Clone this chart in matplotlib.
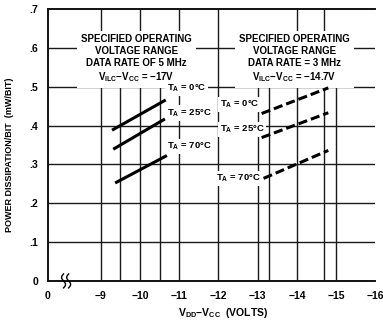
import numpy as np
import matplotlib
matplotlib.use("Agg")
import matplotlib.pyplot as plt

plt.rcParams['font.family'] = ['Liberation Sans', 'DejaVu Sans']
plt.rcParams['mathtext.fontset'] = 'custom'
plt.rcParams['mathtext.rm'] = 'Liberation Sans:bold'
plt.rcParams['mathtext.default'] = 'rm'

# data (volts, mW/bit)
v_5mhz_0 = [-9.32, -10.62]
p_5mhz_0 = [0.390, 0.464]
v_5mhz_25 = [-9.35, -10.60]
p_5mhz_25 = [0.341, 0.415]
v_5mhz_70 = [-9.40, -10.65]
p_5mhz_70 = [0.254, 0.321]

v_3mhz_0 = [-13.10, -14.80]
p_3mhz_0 = [0.431, 0.497]
v_3mhz_25 = [-13.10, -14.80]
p_3mhz_25 = [0.369, 0.433]
v_3mhz_70 = [-13.15, -14.80]
p_3mhz_70 = [0.264, 0.336]

x_ticks = [-7.65, -9, -10, -11, -12, -13, -14, -15, -16]
x_tick_labels = ['0', '\u22129', '\u221210', '\u221211', '\u221212', '\u221213', '\u221214', '\u221215', '\u221216']
y_ticks = [0, 0.1, 0.2, 0.3, 0.4, 0.5, 0.6, 0.7]
y_tick_labels = ['0', '.1', '.2', '.3', '.4', '.5', '.6', '.7']
v_grid_full = [-9, -10, -11, -12, -14, -14.7]
v_grid_low = [-9.5, -10.5, -13, -13.3, -15]

fig = plt.figure(figsize=(3.83, 3.24), dpi=100)
ax = fig.add_axes([0.125, 0.133, 0.855, 0.839])
ax.set_xlim(-7.65, -16)
ax.set_ylim(0, 0.7)

# grid
for v in v_grid_full:
    ax.axvline(v, color='#1a1a1a', lw=1.0, zorder=1)
for v in v_grid_low:
    ax.axvline(v, ymax=0.5 / 0.7, color='#1a1a1a', lw=1.0, zorder=1)
for p in y_ticks[1:-1]:
    ax.axhline(p, color='#1a1a1a', lw=1.0, zorder=1)

ax.spines['right'].set_visible(False)
for s in ['left', 'bottom', 'top']:
    ax.spines[s].set_linewidth(1.4)
    ax.spines[s].set_color('#111111')

ax.set_xticks(x_ticks)
ax.set_xticklabels(x_tick_labels, fontsize=7.5, fontweight='bold')
ax.set_yticks(y_ticks)
ax.set_yticklabels(y_tick_labels, fontsize=7.5, fontweight='bold')
ax.tick_params(length=0, pad=7)

# data lines
ax.plot(v_5mhz_0, p_5mhz_0, color='black', lw=2.2, zorder=4)
ax.plot(v_5mhz_25, p_5mhz_25, color='black', lw=2.2, zorder=4)
ax.plot(v_5mhz_70, p_5mhz_70, color='black', lw=2.2, zorder=4)
ax.plot(v_3mhz_0, p_3mhz_0, color='black', lw=2.2, ls=(0, (3, 1.3)), zorder=4)
ax.plot(v_3mhz_25, p_3mhz_25, color='black', lw=2.2, ls=(0, (3, 1.3)), zorder=4)
ax.plot(v_3mhz_70, p_3mhz_70, color='black', lw=2.2, ls=(0, (3, 1.3)), zorder=4)

box = dict(facecolor='white', edgecolor='none', pad=1.5)
ax.text(-9.9, 0.572, 'SPECIFIED OPERATING\nVOLTAGE RANGE\nDATA RATE OF 5 MHz\n'
        'V$_{ILC}$\u2212V$_{CC}$ = \u221217V',
        ha='center', va='center', fontsize=7, fontweight='bold', linespacing=1.25,
        bbox=dict(facecolor='white', edgecolor='none', pad=3), zorder=3)
ax.text(-13.93, 0.572, 'SPECIFIED OPERATING\nVOLTAGE RANGE\nDATA RATE = 3 MHz\n'
        'V$_{ILC}$\u2212V$_{CC}$ = \u221214.7V',
        ha='center', va='center', fontsize=7, fontweight='bold', linespacing=1.25,
        bbox=dict(facecolor='white', edgecolor='none', pad=3), zorder=3)

lab = dict(ha='left', va='center', fontsize=6.8, fontweight='bold', bbox=box, zorder=3)
ax.text(-10.68, 0.497, 'T$_A$ = 0\u00b0C', **lab)
ax.text(-10.68, 0.433, 'T$_A$ = 25\u00b0C', **lab)
ax.text(-10.68, 0.346, 'T$_A$ = 70\u00b0C', **lab)
ax.text(-12.03, 0.454, 'T$_A$ = 0\u00b0C', **lab)
ax.text(-12.03, 0.390, 'T$_A$ = 25\u00b0C', **lab)
ax.text(-11.93, 0.264, 'T$_A$ = 70\u00b0C', **lab)

# axis break mark
t = np.linspace(-1, 1, 30)
for x0 in [-8.05, -8.18]:
    ax.plot(x0 + 0.05 * np.sin(t * np.pi), 0.0 + 0.018 * t, color='black', lw=1.0,
            clip_on=False, zorder=5)

fig.text(10 / 383, 1 - 155 / 324, 'POWER DISSIPATION/BIT  (mW/BIT)', rotation=90,
         ha='center', va='center', fontsize=6.5, fontweight='bold')
fig.text(223 / 383, 1 - 313 / 324, 'V$_{DD}$\u2212V$_{CC}$  (VOLTS)',
         ha='center', va='center', fontsize=7.5, fontweight='bold')

fig.savefig('out.png', dpi=100)
